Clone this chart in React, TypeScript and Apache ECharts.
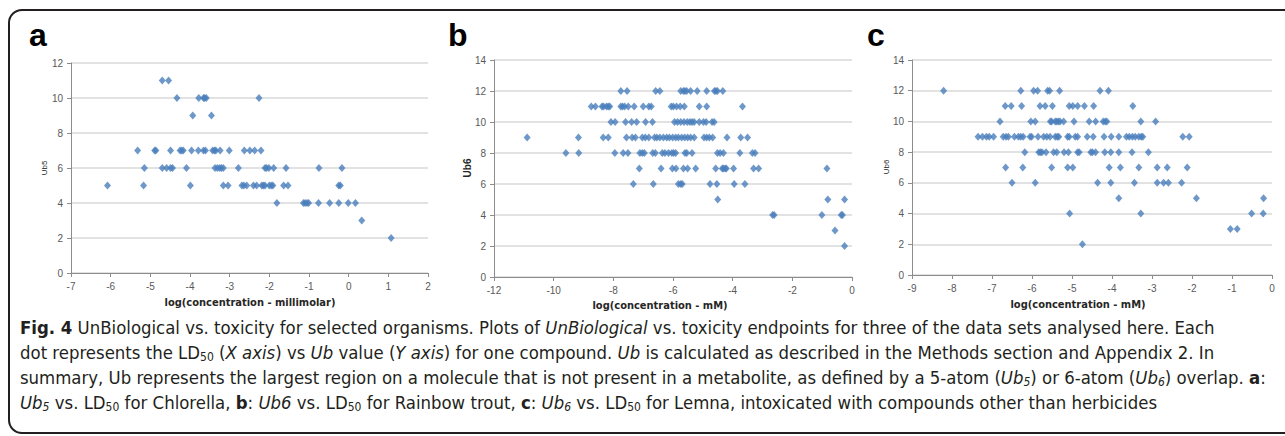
import React, { useEffect, useRef } from "react";
import * as echarts from "echarts";

// Panel a: [log(concentration - millimolar), Ub5]
const panelA: [number, number][] = [
  [-4.70, 11], [-4.54, 11],
  [-4.33, 10], [-3.78, 10], [-3.66, 10], [-3.63, 10], [-3.59, 10], [-2.26, 10],
  [-3.93, 9], [-3.46, 9],
  [-5.32, 7], [-4.89, 7], [-4.86, 7], [-4.49, 7], [-4.25, 7], [-4.21, 7], [-4.17, 7], [-3.96, 7],
  [-3.79, 7], [-3.66, 7], [-3.61, 7], [-3.43, 7], [-3.38, 7], [-3.35, 7], [-3.24, 7], [-3.01, 7],
  [-2.63, 7], [-2.49, 7], [-2.37, 7], [-2.21, 7],
  [-5.15, 6], [-4.70, 6], [-4.59, 6], [-4.49, 6], [-4.44, 6], [-4.09, 6], [-3.37, 6], [-3.31, 6],
  [-3.25, 6], [-3.21, 6], [-3.16, 6], [-2.78, 6], [-2.11, 6], [-2.07, 6], [-2.01, 6], [-1.89, 6],
  [-1.58, 6], [-0.75, 6], [-0.17, 6],
  [-6.08, 5], [-5.17, 5], [-3.99, 5], [-3.16, 5], [-3.04, 5], [-2.69, 5], [-2.64, 5], [-2.57, 5],
  [-2.40, 5], [-2.32, 5], [-2.19, 5], [-2.15, 5], [-2.11, 5], [-2.00, 5], [-1.95, 5], [-1.91, 5],
  [-1.64, 5], [-1.53, 5], [-0.25, 5], [-0.21, 5],
  [-1.81, 4], [-1.14, 4], [-1.10, 4], [-1.05, 4], [-1.01, 4], [-0.76, 4], [-0.48, 4], [-0.25, 4],
  [-0.01, 4], [0.17, 4],
  [0.33, 3],
  [1.07, 2],
];

// Panel b: [log(concentration - mM), Ub6]
const panelB: [number, number][] = [
  [-7.75, 12], [-7.54, 12], [-6.58, 12], [-6.44, 12], [-5.74, 12], [-5.65, 12], [-5.60, 12], [-5.54, 12],
  [-5.41, 12], [-5.19, 12], [-4.87, 12], [-4.61, 12], [-4.56, 12], [-4.51, 12], [-4.33, 12],
  [-8.74, 11], [-8.60, 11], [-8.38, 11], [-8.33, 11], [-8.23, 11], [-8.17, 11], [-8.12, 11], [-7.75, 11],
  [-7.69, 11], [-7.62, 11], [-7.50, 11], [-7.30, 11], [-7.00, 11], [-6.81, 11], [-6.73, 11], [-6.06, 11],
  [-5.99, 11], [-5.88, 11], [-5.76, 11], [-5.62, 11], [-5.12, 11], [-4.87, 11], [-3.67, 11],
  [-8.08, 10], [-7.94, 10], [-7.59, 10], [-7.39, 10], [-7.22, 10], [-6.92, 10], [-6.69, 10], [-5.95, 10],
  [-5.85, 10], [-5.74, 10], [-5.63, 10], [-5.52, 10], [-5.43, 10], [-5.36, 10], [-5.29, 10], [-5.12, 10],
  [-4.98, 10], [-4.89, 10], [-4.69, 10], [-4.62, 10],
  [-10.89, 9], [-9.17, 9], [-8.34, 9], [-8.17, 9], [-7.56, 9], [-7.37, 9], [-7.26, 9], [-7.03, 9],
  [-6.93, 9], [-6.81, 9], [-6.62, 9], [-6.54, 9], [-6.44, 9], [-6.32, 9], [-6.21, 9], [-6.12, 9],
  [-6.01, 9], [-5.91, 9], [-5.82, 9], [-5.71, 9], [-5.61, 9], [-5.51, 9], [-5.41, 9], [-5.29, 9],
  [-4.96, 9], [-4.87, 9], [-4.78, 9], [-4.67, 9], [-4.19, 9], [-3.73, 9], [-3.50, 9],
  [-9.59, 8], [-9.16, 8], [-7.95, 8], [-7.67, 8], [-7.51, 8], [-7.11, 8], [-7.03, 8], [-6.96, 8],
  [-6.68, 8], [-6.59, 8], [-6.36, 8], [-6.27, 8], [-6.15, 8], [-6.04, 8], [-5.98, 8], [-5.91, 8],
  [-5.60, 8], [-5.54, 8], [-5.36, 8], [-4.51, 8], [-4.42, 8], [-4.31, 8], [-3.76, 8], [-3.34, 8],
  [-3.25, 8],
  [-7.13, 7], [-6.40, 7], [-6.02, 7], [-5.90, 7], [-5.65, 7], [-5.51, 7], [-5.24, 7], [-4.57, 7],
  [-4.35, 7], [-4.31, 7], [-4.25, 7], [-4.21, 7], [-3.97, 7], [-3.30, 7], [-3.13, 7], [-0.84, 7],
  [-7.33, 6], [-6.66, 6], [-5.82, 6], [-5.74, 6], [-5.69, 6], [-4.76, 6], [-4.53, 6], [-3.95, 6],
  [-3.59, 6],
  [-4.50, 5], [-0.81, 5], [-0.25, 5],
  [-2.66, 4], [-2.61, 4], [-1.01, 4], [-0.36, 4], [-0.32, 4],
  [-0.57, 3],
  [-0.25, 2],
];

// Panel c: [log(concentration - mM), Ub6]
const panelC: [number, number][] = [
  [-8.21, 12], [-6.28, 12], [-5.96, 12], [-5.86, 12], [-5.61, 12], [-5.56, 12], [-5.31, 12], [-4.30, 12],
  [-4.09, 12],
  [-6.67, 11], [-6.52, 11], [-6.26, 11], [-5.80, 11], [-5.67, 11], [-5.49, 11], [-5.07, 11], [-4.98, 11],
  [-4.86, 11], [-4.69, 11], [-4.46, 11], [-3.48, 11],
  [-6.80, 10], [-6.03, 10], [-5.92, 10], [-5.54, 10], [-5.51, 10], [-5.42, 10], [-5.38, 10], [-5.34, 10],
  [-5.30, 10], [-5.21, 10], [-4.95, 10], [-4.57, 10], [-4.41, 10], [-4.22, 10], [-4.17, 10], [-4.13, 10],
  [-3.28, 10], [-2.91, 10],
  [-7.35, 9], [-7.24, 9], [-7.14, 9], [-7.07, 9], [-6.96, 9], [-6.72, 9], [-6.65, 9], [-6.59, 9],
  [-6.44, 9], [-6.34, 9], [-6.28, 9], [-6.22, 9], [-6.05, 9], [-6.01, 9], [-5.85, 9], [-5.71, 9],
  [-5.63, 9], [-5.55, 9], [-5.42, 9], [-5.37, 9], [-5.33, 9], [-5.11, 9], [-5.07, 9], [-4.92, 9],
  [-4.86, 9], [-4.62, 9], [-4.47, 9], [-4.20, 9], [-4.02, 9], [-3.83, 9], [-3.64, 9], [-3.57, 9],
  [-3.49, 9], [-3.42, 9], [-3.33, 9], [-3.27, 9], [-3.23, 9], [-2.23, 9], [-2.07, 9],
  [-6.18, 8], [-5.83, 8], [-5.79, 8], [-5.75, 8], [-5.65, 8], [-5.46, 8], [-5.38, 8], [-5.20, 8],
  [-5.09, 8], [-4.86, 8], [-4.82, 8], [-4.53, 8], [-4.49, 8], [-4.41, 8], [-4.18, 8], [-4.03, 8],
  [-3.83, 8], [-3.50, 8], [-3.09, 8],
  [-6.66, 7], [-6.23, 7], [-5.51, 7], [-5.11, 7], [-4.98, 7], [-4.07, 7], [-3.79, 7], [-3.33, 7],
  [-2.87, 7], [-2.62, 7], [-2.12, 7],
  [-6.50, 6], [-5.92, 6], [-4.36, 6], [-4.03, 6], [-3.44, 6], [-2.87, 6], [-2.71, 6], [-2.59, 6],
  [-2.26, 6],
  [-3.83, 5], [-1.89, 5], [-0.21, 5],
  [-5.06, 4], [-3.28, 4], [-0.51, 4], [-0.22, 4],
  [-1.04, 3], [-0.87, 3],
  [-4.74, 2],
];

const panelLetters = ["a", "b", "c"];
const yTitles = ["Ub5", "Ub6", "Ub6"];
const xTitles = ["log(concentration - millimolar)", "log(concentration - mM)", "log(concentration - mM)"];
const xRanges: [number, number, number][] = [[-7, 2, 1], [-12, 0, 2], [-9, 0, 1]];
const yRanges: [number, number, number][] = [[0, 12, 2], [0, 14, 2], [0, 14, 2]];

const captionLines = [
  "{b|Fig. 4} UnBiological vs. toxicity for selected organisms. Plots of {i|UnBiological} vs. toxicity endpoints for three of the data sets analysed here. Each",
  "dot represents the LD{s|50} ({i|X axis}) vs {i|Ub} value ({i|Y axis}) for one compound. {i|Ub} is calculated as described in the Methods section and Appendix 2. In",
  "summary, Ub represents the largest region on a molecule that is not present in a metabolite, as defined by a 5-atom ({i|Ub}{is|5}) or 6-atom ({i|Ub}{is|6}) overlap. {b|a}:",
  "{i|Ub}{is|5} vs. LD{s|50} for Chlorella, {b|b}: {i|Ub6} vs. LD{s|50} for Rainbow trout, {b|c}: {i|Ub}{is|6} vs. LD{s|50} for Lemna, intoxicated with compounds other than herbicides",
];

const MARK = "#4a7ebb";
const GRID_LINE = "#d9d9d9";
const AXIS_LINE = "#8c8c8c";
const TICK_TEXT = "#595959";
const CAP_FONT = "'Liberation Sans Narrow', 'DejaVu Sans Condensed', 'Liberation Sans', sans-serif";
const CAP_SIZE = 18.4;

export default function App() {
  const ref = useRef<HTMLDivElement>(null);
  useEffect(() => {
    if (!ref.current) return;
    const chart = echarts.init(ref.current, null, { renderer: "svg" });

    const grids = [
      { left: 71, top: 63, width: 357, height: 210 },
      { left: 494, top: 60, width: 358, height: 217 },
      { left: 912, top: 60, width: 360, height: 215 },
    ];
    const datasets = [panelA, panelB, panelC];

    const xAxes = xRanges.map((r, i) => ({
      type: "value" as const,
      gridIndex: i,
      min: r[0],
      max: r[1],
      interval: r[2],
      axisLine: { show: true, onZero: false, lineStyle: { color: AXIS_LINE, width: 1 } },
      axisTick: { show: true, length: 4, lineStyle: { color: AXIS_LINE } },
      axisLabel: { color: TICK_TEXT, fontSize: 10, fontFamily: "Liberation Sans", margin: 8 },
      splitLine: { show: false },
    }));
    const yAxes = yRanges.map((r, i) => ({
      type: "value" as const,
      gridIndex: i,
      min: r[0],
      max: r[1],
      interval: r[2],
      axisLine: { show: true, onZero: false, lineStyle: { color: AXIS_LINE, width: 1 } },
      axisTick: { show: true, length: 4, lineStyle: { color: AXIS_LINE } },
      axisLabel: { color: TICK_TEXT, fontSize: 10, fontFamily: "Liberation Sans", margin: 8 },
      splitLine: { show: true, lineStyle: { color: GRID_LINE, width: 1.5 } },
    }));

    const series = datasets.map((d, i) => ({
      type: "scatter" as const,
      xAxisIndex: i,
      yAxisIndex: i,
      data: d,
      symbol: "diamond",
      symbolSize: [7, 8],
      itemStyle: { color: MARK },
      silent: true,
    }));

    const letterPos = [[29, 51], [448, 51], [867, 51]];
    const yTitlePos = [[44, 168], [467, 168], [886, 167]];
    const yTitleStyle = [
      { fontSize: 8, fontWeight: "normal" },
      { fontSize: 10, fontWeight: "bold" },
      { fontSize: 8, fontWeight: "normal" },
    ];
    const xTitlePos = [[250, 302], [660, 305], [1078, 304]];

    const richBase = { fontFamily: CAP_FONT, fontSize: CAP_SIZE, fill: "#231f20" };
    const rich = {
      b: { ...richBase, fontWeight: "bold" },
      i: { ...richBase, fontStyle: "italic" },
      s: { ...richBase, fontSize: 12, padding: [10, 0, 0, 0] },
      is: { ...richBase, fontSize: 12, fontStyle: "italic", padding: [10, 0, 0, 0] },
    };

    const graphic: any[] = [
      {
        type: "rect",
        shape: { x: 9, y: 10, width: 1300, height: 423, r: 13 },
        style: { fill: "none", stroke: "#231f20", lineWidth: 2 },
        silent: true,
        z: 10,
      },
      ...panelLetters.map((t, i) => ({
        type: "text",
        x: letterPos[i][0],
        y: letterPos[i][1],
        style: {
          text: t,
          fontFamily: "Liberation Sans",
          fontSize: 32,
          fontWeight: "bold",
          fill: "#000",
          align: "left",
          verticalAlign: "bottom",
        },
      })),
      ...yTitles.map((t, i) => ({
        type: "text",
        x: yTitlePos[i][0],
        y: yTitlePos[i][1],
        rotation: Math.PI / 2,
        style: {
          text: t,
          fontFamily: "Liberation Sans",
          fontSize: yTitleStyle[i].fontSize,
          fontWeight: yTitleStyle[i].fontWeight,
          fill: "#262626",
          align: "center",
          verticalAlign: "middle",
        },
      })),
      ...xTitles.map((t, i) => ({
        type: "text",
        x: xTitlePos[i][0],
        y: xTitlePos[i][1],
        style: {
          text: t,
          fontFamily: CAP_FONT,
          fontSize: 11,
          fontWeight: "bold",
          fill: "#262626",
          align: "center",
          verticalAlign: "middle",
        },
      })),
      ...captionLines.map((t, i) => ({
        type: "text",
        x: 20,
        y: 327 + i * 25,
        style: {
          text: t,
          fontFamily: CAP_FONT,
          fontSize: CAP_SIZE,
          fill: "#231f20",
          align: "left",
          verticalAlign: "middle",
          rich,
        },
      })),
    ];

    chart.setOption({
      animation: false,
      backgroundColor: "#ffffff",
      grid: grids,
      xAxis: xAxes,
      yAxis: yAxes,
      series,
      graphic,
    });
    return () => chart.dispose();
  }, []);

  return (
    <div
      ref={ref}
      style={{ position: "fixed", left: 0, top: 0, width: 1285, height: 436 }}
    />
  );
}
